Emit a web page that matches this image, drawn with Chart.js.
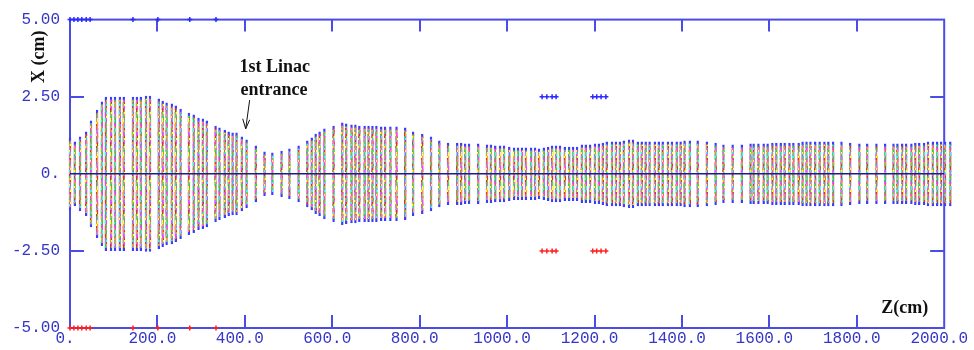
<!DOCTYPE html>
<html>
<head>
<meta charset="utf-8">
<script src="https://cdn.jsdelivr.net/npm/chart.js@4/dist/chart.umd.min.js"></script>
<style>
  html, body { margin: 0; padding: 0; background: #fff; }
</style>
</head>
<body>
<canvas id="envChart" width="974" height="350"></canvas>
<script>
// beam envelope: z position of each slice (cm) and its half width in X (cm)
const zPos = [
  0, 11, 23, 37, 48, 62, 73, 82, 94, 103,
  114, 123, 144, 153, 162, 174, 183, 203, 212, 221,
  233, 242, 253, 272, 283, 294, 304, 313, 333, 342,
  354, 363, 372, 381, 393, 404, 425, 445, 463, 484,
  502, 523, 543, 553, 562, 571, 582, 603, 623, 632,
  644, 653, 662, 674, 683, 692, 701, 712, 721, 733,
  747, 767, 785, 806, 826, 845, 865, 886, 895, 904,
  913, 934, 954, 963, 973, 984, 993, 1005, 1016, 1025,
  1034, 1043, 1055, 1064, 1073, 1084, 1094, 1103, 1112, 1121,
  1132, 1142, 1151, 1160, 1171, 1180, 1190, 1201, 1210, 1219,
  1228, 1240, 1249, 1258, 1267, 1279, 1288, 1299, 1308, 1317,
  1326, 1338, 1347, 1356, 1368, 1377, 1388, 1397, 1406, 1418,
  1436, 1457, 1477, 1495, 1516, 1537, 1557, 1564, 1575, 1587,
  1596, 1607, 1616, 1626, 1635, 1646, 1655, 1667, 1676, 1685,
  1694, 1705, 1715, 1726, 1735, 1746, 1765, 1785, 1806, 1824,
  1845, 1865, 1884, 1893, 1904, 1913, 1925, 1934, 1943, 1954,
  1963, 1974, 1984, 1993, 2002, 2014
];
const halfX = [
  1.17, 1.04, 1.20, 1.36, 1.72, 2.07, 2.33, 2.49, 2.49, 2.49,
  2.49, 2.49, 2.49, 2.49, 2.49, 2.52, 2.52, 2.43, 2.36, 2.30,
  2.27, 2.20, 2.10, 1.97, 1.91, 1.81, 1.78, 1.72, 1.55, 1.49,
  1.42, 1.36, 1.33, 1.33, 1.20, 1.10, 0.91, 0.71, 0.68, 0.74,
  0.81, 0.91, 1.07, 1.17, 1.29, 1.36, 1.46, 1.55, 1.65, 1.62,
  1.59, 1.59, 1.55, 1.55, 1.55, 1.55, 1.55, 1.52, 1.52, 1.52,
  1.52, 1.49, 1.36, 1.29, 1.20, 1.07, 1.00, 1.00, 1.00, 0.97,
  0.97, 0.97, 0.94, 0.94, 0.91, 0.91, 0.91, 0.87, 0.84, 0.84,
  0.84, 0.84, 0.84, 0.84, 0.81, 0.84, 0.87, 0.91, 0.91, 0.91,
  0.87, 0.87, 0.87, 0.87, 0.94, 0.94, 0.94, 0.97, 0.97, 1.00,
  1.04, 1.04, 1.04, 1.04, 1.07, 1.10, 1.10, 1.04, 1.04, 1.04,
  1.04, 1.04, 1.04, 1.04, 1.04, 1.04, 1.04, 1.04, 1.07, 1.07,
  1.07, 1.04, 1.00, 0.94, 0.94, 0.94, 0.97, 0.97, 0.97, 0.97,
  0.97, 1.00, 1.00, 1.00, 1.00, 1.00, 1.00, 1.00, 1.04, 1.04,
  1.04, 1.04, 1.04, 1.04, 1.04, 1.04, 1.04, 1.00, 0.97, 0.97,
  0.97, 0.97, 0.97, 0.97, 0.97, 0.97, 0.97, 1.00, 1.00, 1.00,
  1.04, 1.04, 1.04, 1.04, 1.04, 1.04
];

// element markers on the frame (top blue at +5, bottom red at -5)
const edgeMarkZ = [0, 9, 18, 27, 37, 46, 144, 201, 274, 334];
// slit markers at +/-2.5 cm
const slitZ = [1080, 1091, 1103, 1112, 1196, 1205, 1215, 1226];

const xTickVals = [0, 200, 400, 600, 800, 1000, 1200, 1400, 1600, 1800, 2000];
const xTickLabels = ['0.', '200.0', '400.0', '600.0', '800.0', '1000.0', '1200.0', '1400.0', '1600.0', '1800.0', '2000.0'];
const yTickVals = [-5, -2.5, 0, 2.5, 5];
const yTickLabels = ['-5.00', '-2.50', '0.', '2.50', '5.00'];

const axisBlue = '#4b4be6';
const labelBlue = '#3535c8';
const speckle = ['#ff40ff', '#e03030', '#40c840', '#ffff30', '#40f0f0', '#e48a8a', '#a8a860', '#8c8cff', '#60d060', '#d050d0', '#f0a040', '#c87070'];

// multi coloured particle look for the columns
function makeSpeckle(ctx) {
  const c = document.createElement('canvas');
  c.width = 13; c.height = 34;
  const g = c.getContext('2d');
  for (let px = 0; px < c.width; px++) {
    for (let py = 0; py < c.height; py += 2) {
      g.fillStyle = speckle[(px * 7 + py * 5 + (px * py) % 5) % speckle.length];
      g.fillRect(px, py, 1, 2);
    }
  }
  return ctx.createPattern(c, 'repeat');
}

const framePlugin = {
  id: 'frame',
  beforeDatasetsDraw(chart) {
    const {ctx, chartArea: a, scales: {x, y}} = chart;
    ctx.save();
    ctx.strokeStyle = axisBlue;
    ctx.lineWidth = 2;
    ctx.strokeRect(a.left, a.top, a.right - a.left, a.bottom - a.top);
    ctx.beginPath();
    xTickVals.forEach(v => {
      if (v === 0 || v === 2000) return;
      const px = Math.round(x.getPixelForValue(v));
      ctx.moveTo(px, a.bottom); ctx.lineTo(px, a.bottom - 13);
      ctx.moveTo(px, a.top); ctx.lineTo(px, a.top + 12);
    });
    [-2.5, 2.5].forEach(v => {
      const py = Math.round(y.getPixelForValue(v));
      ctx.moveTo(a.left, py); ctx.lineTo(a.left + 14, py);
      ctx.moveTo(a.right, py); ctx.lineTo(a.right - 14, py);
    });
    ctx.stroke();
    ctx.restore();
  },
  afterDatasetsDraw(chart) {
    const {ctx, chartArea: a, scales: {x, y}} = chart;
    ctx.save();
    // zero line
    const y0 = y.getPixelForValue(0);
    ctx.strokeStyle = '#1c1c8c';
    ctx.lineWidth = 1.6;
    ctx.beginPath();
    ctx.moveTo(a.left, y0); ctx.lineTo(a.right, y0);
    ctx.stroke();

    // labels
    ctx.fillStyle = '#111';
    ctx.font = 'bold 18px "Liberation Serif", "Times New Roman", serif';
    ctx.textAlign = 'left';
    ctx.textBaseline = 'alphabetic';
    ctx.fillText('1st Linac', x.getPixelForValue(388), y.getPixelForValue(3.30));
    ctx.fillText('entrance', x.getPixelForValue(390), y.getPixelForValue(2.56));
    ctx.fillText('Z(cm)', x.getPixelForValue(1856), y.getPixelForValue(-4.5));

    // arrow to the linac entrance
    const tx = x.getPixelForValue(402), ty = y.getPixelForValue(1.46);
    const sx = x.getPixelForValue(411), sy = y.getPixelForValue(2.39);
    ctx.strokeStyle = '#111';
    ctx.lineWidth = 1;
    ctx.beginPath();
    ctx.moveTo(sx, sy); ctx.lineTo(tx, ty);
    ctx.moveTo(tx, ty); ctx.lineTo(tx - 3, ty - 10);
    ctx.moveTo(tx, ty); ctx.lineTo(tx + 4, ty - 9);
    ctx.stroke();

    // y axis title
    ctx.translate(44, 83);
    ctx.rotate(-Math.PI / 2);
    ctx.fillText('X (cm)', 0, 0);
    ctx.restore();
  }
};

const ctx = document.getElementById('envChart').getContext('2d');

const envChart = new Chart(ctx, {
  type: 'bar',
  data: {
    datasets: [
      {
        type: 'scatter',
        data: edgeMarkZ.map(z => ({x: z, y: 5})),
        pointStyle: 'cross', pointRadius: 2.5, borderWidth: 1.5,
        borderColor: '#2a2aff', backgroundColor: '#2a2aff',
        clip: false, order: 1
      },
      {
        type: 'scatter',
        data: edgeMarkZ.map(z => ({x: z, y: -5})),
        pointStyle: 'cross', pointRadius: 2.5, borderWidth: 1.5,
        borderColor: '#ff2020', backgroundColor: '#ff2020',
        clip: false, order: 1
      },
      {
        type: 'scatter',
        data: slitZ.map(z => ({x: z, y: 2.5})),
        pointStyle: 'cross', pointRadius: 2.5, borderWidth: 1.5,
        borderColor: '#2a2aff', backgroundColor: '#2a2aff',
        clip: false, order: 1
      },
      {
        type: 'scatter',
        data: slitZ.map(z => ({x: z, y: -2.5})),
        pointStyle: 'cross', pointRadius: 2.5, borderWidth: 1.5,
        borderColor: '#ff2020', backgroundColor: '#ff2020',
        clip: false, order: 1
      },
      {
        type: 'bar',
        data: zPos.map((z, i) => ({x: z, y: [-halfX[i], halfX[i]]})),
        backgroundColor: makeSpeckle(ctx),
        borderColor: '#3c3cff',
        borderWidth: {top: 3, bottom: 3, left: 0, right: 0},
        borderSkipped: false,
        barThickness: 2.5,
        clip: false, order: 2
      }
    ]
  },
  options: {
    responsive: false,
    animation: false,
    devicePixelRatio: 1,
    layout: { padding: { left: 0, top: 18, right: 28, bottom: 0 } },
    plugins: { legend: { display: false }, tooltip: { enabled: false } },
    scales: {
      x: {
        type: 'linear', min: 0, max: 2000, offset: false,
        grid: { display: false, drawTicks: false }, border: { display: false },
        afterBuildTicks: s => { s.ticks = xTickVals.map(v => ({value: v})); },
        afterFit: s => { s.height = 22; },
        ticks: {
          autoSkip: false, maxRotation: 0, padding: 1, labelOffset: -5,
          color: labelBlue,
          font: { family: '"Liberation Mono", "Courier New", monospace', size: 16 },
          callback: (v, i) => xTickLabels[i]
        }
      },
      y: {
        type: 'linear', min: -5, max: 5,
        grid: { display: false, drawTicks: false }, border: { display: false },
        afterBuildTicks: s => { s.ticks = yTickVals.map(v => ({value: v})); },
        afterFit: s => { s.width = 70; },
        ticks: {
          padding: 10,
          color: labelBlue,
          font: { family: '"Liberation Mono", "Courier New", monospace', size: 16 },
          callback: (v, i) => yTickLabels[i]
        }
      }
    }
  },
  plugins: [framePlugin]
});
</script>
</body>
</html>
